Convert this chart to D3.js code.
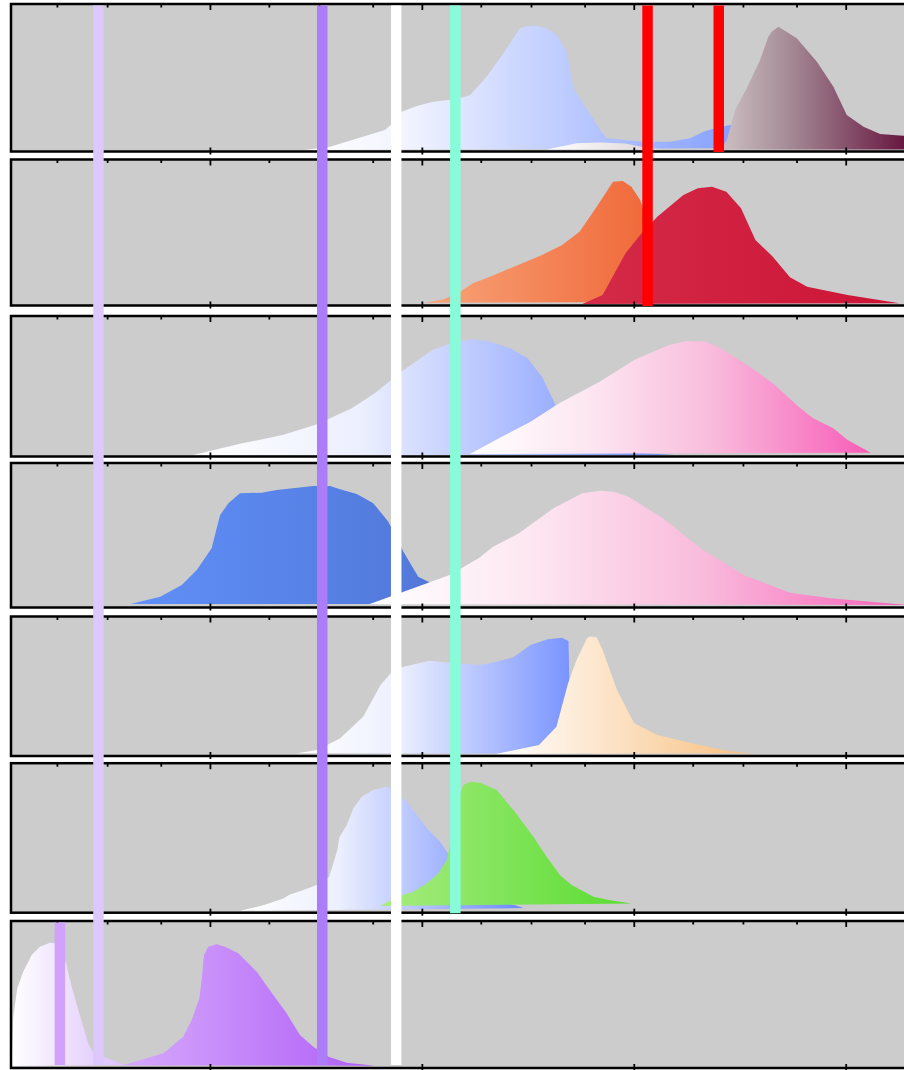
<!DOCTYPE html>
<html><head><meta charset="utf-8">
<script src="https://cdn.jsdelivr.net/npm/d3@7"></script>
<style>html,body{margin:0;padding:0;background:#fff;}svg{display:block;}</style>
</head><body>
<svg id="chart" width="904" height="1070"></svg>
<script>
// ---------- data ----------
const majorTicks = [0, 10, 20, 30, 40];
const minorTicks = [2.78, 5.15, 7.68, 12.78, 15.15, 17.68, 22.78, 25.15, 27.68, 32.78, 35.15, 37.68, 42.78];

// panel 1
const p1Blue = [[14.49,0],[15.67,0.023],[18.26,0.138],[18.58,0.18],[19.05,0.265],[19.76,0.305],[20.54,0.334],[21.25,0.346],[21.96,0.365],[22.28,0.381],[23.06,0.507],[23.85,0.669],[24.63,0.842],[24.95,0.858],[25.42,0.86],[25.89,0.842],[26.37,0.796],[26.84,0.68],[27.15,0.427],[27.62,0.323],[28.41,0.138],[28.73,0.081],[30.44,0.057],[31.71,0.057],[32.66,0.081],[33.28,0.127],[33.84,0.15],[34.54,0.173],[35.25,0.152],[36.43,0.069],[37.85,0.014]];
const p1Maroon = [[25.89,0.003],[27.31,0.046],[28.41,0.052],[29.59,0.045],[30.53,0.017],[31.48,0.003],[33.13,0.003],[34.17,0.021],[34.39,0.069],[34.78,0.277],[35.33,0.427],[35.96,0.623],[36.35,0.784],[36.51,0.819],[36.82,0.853],[37.69,0.773],[38.64,0.611],[39.42,0.438],[40.05,0.242],[40.84,0.161],[41.62,0.111],[42.72,0.099],[43.4,0.08],[43.6,0.003]];
// panel 2
const p2Orange = [[20.09,0.009],[21.04,0.033],[21.71,0.077],[22.41,0.145],[23.22,0.191],[25.67,0.343],[26.62,0.413],[27.44,0.506],[28.25,0.68],[29.02,0.855],[29.48,0.86],[29.89,0.82],[30.3,0.727],[30.77,0.517],[31.24,0.273],[31.71,0.098],[32.18,0.014]];
const p2Crimson = [[27.57,0],[28.53,0.063],[29.61,0.355],[30.3,0.483],[31.11,0.61],[32.34,0.762],[33.02,0.809],[33.69,0.82],[34.37,0.785],[35.06,0.669],[35.74,0.448],[36.56,0.331],[37.37,0.187],[38.18,0.121],[40.09,0.063],[42.54,0.005]];
// panel 3
const p3Blue = [[9.21,0],[11.52,0.085],[13.43,0.145],[15.06,0.223],[16.69,0.34],[17.78,0.449],[19.14,0.618],[20.5,0.764],[21.59,0.824],[22.41,0.841],[23.22,0.824],[24.17,0.776],[24.99,0.703],[25.67,0.569],[26.35,0.351],[26.99,0.182],[27.7,0.073],[28.41,0.029],[30.3,0.015],[31.93,0]];
const p3Pink = [[22.27,0.007],[23.77,0.133],[25.13,0.242],[26.48,0.376],[28.39,0.533],[30.02,0.691],[31.66,0.8],[32.47,0.829],[33.43,0.824],[34.11,0.776],[35.46,0.642],[36.56,0.521],[37.78,0.351],[38.46,0.267],[39.41,0.194],[40.09,0.109],[41.18,0.017]];
// panel 4
const p4Royal = [[6.26,0.014],[7.65,0.066],[8.67,0.148],[9.38,0.254],[10.08,0.408],[10.32,0.549],[10.48,0.643],[10.87,0.726],[11.42,0.796],[12.44,0.801],[13.15,0.82],[14.88,0.848],[15.67,0.848],[16.14,0.825],[16.93,0.792],[17.71,0.726],[18.42,0.596],[19.13,0.384],[19.83,0.207],[20.31,0.172],[20.86,0.113],[21.57,0.057],[22.28,0.021],[22.75,0.014]];
const p4Pink = [[17.51,0.012],[19.14,0.101],[21.31,0.219],[22.68,0.337],[23.36,0.419],[24.58,0.514],[26.21,0.69],[27.57,0.796],[28.39,0.815],[29.07,0.808],[29.75,0.772],[31.38,0.62],[33.15,0.408],[35.19,0.219],[37.37,0.094],[39.27,0.054],[42.54,0.012],[43.51,0.007]];
// panel 5
const p5Blue = [[14.11,0.009],[15.06,0.033],[16.15,0.119],[17.23,0.277],[18.05,0.509],[18.59,0.607],[19.14,0.643],[20.36,0.687],[21.59,0.668],[22.68,0.656],[23.22,0.668],[24.31,0.712],[25.13,0.802],[25.94,0.844],[26.62,0.856],[26.92,0.832],[26.97,0.473],[27.09,0.179],[27.47,0.048],[28.03,0.007]];
const p5Peach = [[23.49,0.004],[25.53,0.07],[26.35,0.204],[26.9,0.522],[27.3,0.692],[27.79,0.851],[27.94,0.864],[28.25,0.859],[28.53,0.766],[29.21,0.473],[30.02,0.229],[31.11,0.143],[32.74,0.082],[34.37,0.028],[35.6,0.009]];
// panel 6
const p6Blue = [[11.42,0.003],[12.52,0.041],[13.46,0.087],[13.78,0.114],[14.41,0.144],[15.04,0.178],[15.62,0.234],[15.82,0.326],[16.01,0.417],[16.11,0.504],[16.46,0.588],[16.77,0.702],[17.16,0.781],[17.71,0.827],[18.34,0.85],[18.82,0.815],[19.29,0.747],[19.76,0.656],[20.31,0.554],[20.86,0.474],[21.18,0.405],[21.8,0.28],[22.75,0.123],[23.69,0.062],[24.4,0.041],[24.79,0.021]];
const p6Green = [[18.03,0.036],[18.81,0.098],[19.6,0.132],[20.23,0.189],[20.78,0.258],[21.18,0.349],[21.43,0.519],[21.71,0.759],[21.96,0.861],[22.28,0.884],[22.75,0.877],[23.53,0.827],[24.32,0.69],[25.26,0.508],[25.89,0.371],[26.52,0.246],[27.07,0.178],[28.09,0.098],[28.88,0.075],[29.9,0.053]];
// panel 7
const p7White = [[0.64,0.003],[0.72,0.346],[0.91,0.543],[1.19,0.658],[1.59,0.774],[1.98,0.832],[2.45,0.86],[2.69,0.856],[3.21,0.717],[3.48,0.554],[3.79,0.392],[4.26,0.161],[4.5,0.092],[4.97,0.068],[5.99,0.01]];
const p7Purple = [[5.85,0.007],[7.8,0.092],[8.74,0.207],[9.14,0.323],[9.5,0.474],[9.61,0.601],[9.72,0.774],[9.92,0.832],[10.32,0.849],[10.71,0.832],[11.34,0.786],[12.21,0.658],[12.99,0.497],[13.62,0.369],[14.25,0.219],[14.88,0.138],[15.59,0.068],[16.46,0.026],[17.79,0.006]];

// reference lines: position, colour, first panel, last panel
const refX      = [4.74, 15.30, 18.79, 21.58, 30.65, 34.01, 2.92];
const refColor  = ["#dcc8fb", "#ad7cf9", "#ffffff", "#88fcd8", "#ff0000", "#ff0000", "#d0a2fb"];
const refFrom   = [0, 0, 0, 0, 0, 0, 6];
const refTo     = [6, 6, 6, 5, 1, 0, 6];

// gradient definitions
const blueStops = {colors: ["#ffffff", "#eceffe", "#6a88ff"], offs: [0, 0.35, 1]};
const p1BlueStops = {colors: ["#ffffff", "#f2f4ff", "#7090ff"], offs: [0, 0.2, 1]};
const pinkStops = {colors: ["#ffffff", "#fde6f1", "#f9bcdc", "#f85cb8"], offs: [0, 0.3, 0.6, 1]};

// curves per panel (drawing order) with gradient stops
const panelCurves = [
  [{data: p1Blue, ...p1BlueStops}, {data: p1Maroon, colors: ["#ffffff", "#c8b8bc", "#a8909a", "#5e0634"], offs: [0, 0.49, 0.63, 1]}],
  [{data: p2Orange, colors: ["#f8a57a", "#ef6030"]}, {data: p2Crimson, colors: ["#d42a48", "#cc1436"]}],
  [{data: p3Blue, ...blueStops}, {data: p3Pink, ...pinkStops}],
  [{data: p4Royal, colors: ["#6090f8", "#4f74d4"]}, {data: p4Pink, ...pinkStops}],
  [{data: p5Blue, ...blueStops}, {data: p5Peach, colors: ["#ffffff", "#f8c080"]}],
  [{data: p6Blue, ...blueStops}, {data: p6Green, colors: ["#a8ec80", "#58dc30"]}],
  [{data: p7White, colors: ["#ffffff", "#dcc0fc"]}, {data: p7Purple, colors: ["#d6aafb", "#b05ef8"]}]
];

// ---------- layout ----------
const panelTop    = [4, 159.5, 316, 463, 616.5, 763.2, 921];
const panelBottom = [151.5, 305.5, 456.5, 607.5, 756, 912.7, 1068];
const left = 11, rightEdge = 1000;

const svg = d3.select("#chart");
const defs = svg.append("defs");
const x = d3.scaleLinear().domain([0, 40]).range([-2, 845.7]);

let gid = 0;
panelCurves.forEach((curves, i) => {
  const top = panelTop[i], bot = panelBottom[i];
  const y = d3.scaleLinear().domain([0, 1]).range([bot - 1.5, top + 1.5]);
  const g = svg.append("g");
  g.append("rect").attr("x", left).attr("y", top).attr("width", rightEdge - left)
    .attr("height", bot - top).attr("fill", "#cccccc");
  const line = d3.line().x(d => x(d[0])).y(d => y(d[1]));
  curves.forEach(c => {
    const id = "grad" + (gid++);
    const lg = defs.append("linearGradient").attr("id", id)
      .attr("x1", 0).attr("x2", 1).attr("y1", 0).attr("y2", 0);
    const offs = c.offs || c.colors.map((s, k) => k / (c.colors.length - 1));
    c.colors.forEach((s, k) => lg.append("stop").attr("offset", offs[k]).attr("stop-color", s));
    g.append("path").attr("d", line(c.data) + "Z").attr("fill", `url(#${id})`);
  });
  g.append("rect").attr("x", left).attr("y", top).attr("width", rightEdge - left)
    .attr("height", bot - top).attr("fill", "none").attr("stroke", "#000").attr("stroke-width", 2.5);
  // ticks
  const tk = sel => { sel.select(".domain").remove(); sel.selectAll("line").attr("stroke", "#000").attr("stroke-width", 1.8); sel.selectAll("text").remove(); };
  g.append("g").attr("transform", `translate(0,${top})`)
    .call(d3.axisTop(x).tickValues(majorTicks).tickSize(-6).tickFormat("")).call(tk);
  g.append("g").attr("transform", `translate(0,${top})`)
    .call(d3.axisTop(x).tickValues(minorTicks).tickSize(-3.5).tickFormat("")).call(tk);
  g.append("g").attr("transform", `translate(0,${bot + 3})`)
    .call(d3.axisTop(x).tickValues(majorTicks).tickSize(7).tickFormat("")).call(tk);
});

// reference lines on top
refX.forEach((v, k) => {
  const y1 = panelTop[refFrom[k]] + 1.5;
  const j = refTo[k];
  const y2 = panelBottom[j] + (j === 6 ? -3 : 0.5);
  svg.append("line").attr("x1", x(v)).attr("x2", x(v)).attr("y1", y1).attr("y2", y2)
    .attr("stroke", refColor[k]).attr("stroke-width", 10.5);
});
</script>
</body></html>
